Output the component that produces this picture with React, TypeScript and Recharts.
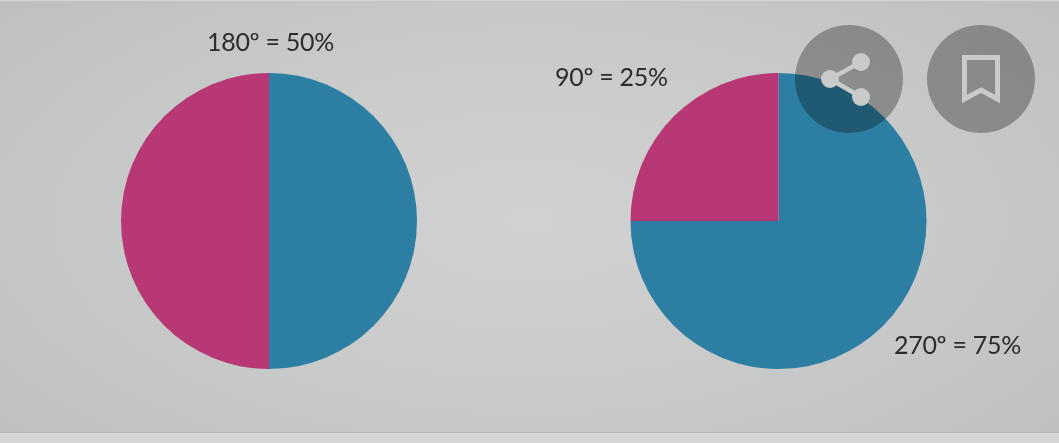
import { Cell, Pie, PieChart } from "recharts";

const WIDTH = 1059;
const HEIGHT = 443;

const sliceNames = ["blue", "magenta"];
const halfValues = [50, 50];
const quarterValues = [75, 25];
const sliceColors = ["#2c7fa3", "#b83775"];

const leftData = sliceNames.map((name, i) => ({ name, value: halfValues[i] }));
const rightData = sliceNames.map((name, i) => ({ name, value: quarterValues[i] }));

const labelStyle = { fontFamily: "Lato", fontSize: 25, fill: "#2b2c2c", letterSpacing: -0.3 };
const badgeStyle = { fill: "#b2b2b2", mixBlendMode: "multiply" as const };
const iconColor = "#c9caca";

export default function App() {
  return (
    <div
      style={{
        position: "absolute",
        left: 0,
        top: 0,
        width: WIDTH,
        height: HEIGHT,
        overflow: "hidden",
        background: "#d5d5d5",
      }}
    >
      <div
        style={{
          position: "absolute",
          left: 0,
          top: 1,
          width: WIDTH,
          height: 431,
          background: "radial-gradient(ellipse 720px 340px at 530px 220px, #d0d1d0 0%, #c9caca 50%, #bebfbf 100%)",
          borderBottom: "1px solid #b9b9b9",
        }}
      />
      <div style={{ position: "absolute", left: 0, top: 0 }}>
        <PieChart width={WIDTH} height={HEIGHT} margin={{ top: 0, right: 0, bottom: 0, left: 0 }}>
          <Pie
            data={leftData}
            dataKey="value"
            cx={269}
            cy={221}
            outerRadius={148}
            startAngle={90}
            endAngle={-270}
            stroke="none"
            isAnimationActive={false}
          >
            {leftData.map((d, i) => (
              <Cell key={d.name} fill={sliceColors[i]} />
            ))}
          </Pie>
          <Pie
            data={rightData}
            dataKey="value"
            cx={778.5}
            cy={221}
            outerRadius={148}
            startAngle={90}
            endAngle={-270}
            stroke="none"
            isAnimationActive={false}
          >
            {rightData.map((d, i) => (
              <Cell key={d.name} fill={sliceColors[i]} />
            ))}
          </Pie>
        </PieChart>
      </div>
      <svg width={WIDTH} height={HEIGHT} style={{ position: "absolute", left: 0, top: 0 }}>
        <text x={207} y={51} style={labelStyle}>180º = 50%</text>
        <text x={555} y={86} style={labelStyle}>90º = 25%</text>
        <text x={894} y={354} style={labelStyle}>270º = 75%</text>

        <circle cx={849} cy={79} r={54} style={badgeStyle} />
        <path d="M861 62 L830 79 L861 97" fill="none" stroke={iconColor} strokeWidth={4.5} />
        <circle cx={861} cy={62} r={9} fill={iconColor} />
        <circle cx={830} cy={79} r={9} fill={iconColor} />
        <circle cx={861} cy={97} r={9} fill={iconColor} />

        <circle cx={981} cy={79} r={54} style={badgeStyle} />
        <path
          d="M964.5 57.5 H997.5 V99 L981 90 L964.5 99 Z"
          fill="none"
          stroke={iconColor}
          strokeWidth={5}
        />
      </svg>
    </div>
  );
}
